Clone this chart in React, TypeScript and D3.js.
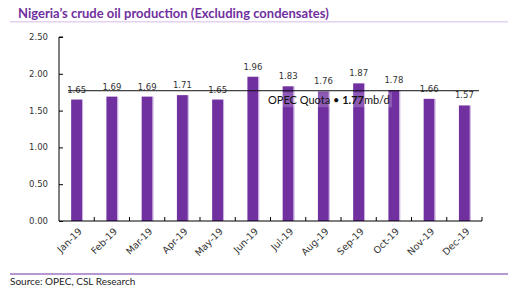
import { useEffect, useRef } from "react";
import * as d3 from "d3";

const months = ["Jan-19", "Feb-19", "Mar-19", "Apr-19", "May-19", "Jun-19", "Jul-19", "Aug-19", "Sep-19", "Oct-19", "Nov-19", "Dec-19"];
const production = [1.65, 1.69, 1.69, 1.71, 1.65, 1.96, 1.83, 1.76, 1.87, 1.78, 1.66, 1.57];
const yTicks = [0, 0.5, 1, 1.5, 2, 2.5];
const opecQuota = 1.77;

export default function App() {
  const ref = useRef<SVGSVGElement>(null);

  useEffect(() => {
    const svg = d3.select(ref.current);
    svg.selectAll("*").remove();

    const width = 522;
    const height = 295;
    const purple = "#7030a0";
    const font = "Lato, 'Open Sans', sans-serif";
    const numFont = "'DejaVu Sans', Verdana, sans-serif";

    svg.attr("width", width).attr("height", height);

    // title and rule under it
    svg.append("text")
      .attr("x", 18)
      .attr("y", 18)
      .attr("font-family", font)
      .attr("font-weight", "bold")
      .attr("font-size", 13)
      .attr("fill", purple)
      .text("Nigeria\u2019s crude oil production (Excluding condensates)");

    svg.append("line")
      .attr("x1", 10).attr("x2", 508)
      .attr("y1", 21.7).attr("y2", 21.7)
      .attr("stroke", "#e3d2f0")
      .attr("stroke-width", 1.4);

    const x = d3.scaleBand<string>()
      .domain(months)
      .range([59, 482])
      .paddingInner(0.69)
      .paddingOuter(0.345);

    const y = d3.scaleLinear()
      .domain([0, 2.5])
      .range([221, 37]);

    // bars with a light right edge
    const bars = svg.append("g");
    bars.selectAll("rect.bar")
      .data(production)
      .join("rect")
      .attr("class", "bar")
      .attr("x", (_, i) => x(months[i])!)
      .attr("y", d => y(d))
      .attr("width", x.bandwidth())
      .attr("height", d => y(0) - y(d))
      .attr("fill", purple);
    bars.selectAll("rect.edge")
      .data(production)
      .join("rect")
      .attr("class", "edge")
      .attr("x", (_, i) => x(months[i])! + x.bandwidth())
      .attr("y", d => y(d))
      .attr("width", 1)
      .attr("height", d => y(0) - y(d))
      .attr("fill", "#c9aee0");

    // value labels
    svg.append("g")
      .selectAll("text")
      .data(production)
      .join("text")
      .attr("x", (_, i) => x(months[i])! + x.bandwidth() / 2)
      .attr("y", d => y(d) - 7)
      .attr("text-anchor", "middle")
      .attr("font-family", numFont)
      .attr("font-size", 8.5)
      .attr("fill", "#333")
      .text(d => d.toFixed(2));

    // quota line and its label
    const qy = y(opecQuota);
    svg.append("line")
      .attr("x1", 68).attr("x2", 479)
      .attr("y1", qy).attr("y2", qy)
      .attr("stroke", "#111")
      .attr("stroke-width", 1);

    svg.append("rect")
      .attr("x", 264).attr("y", qy + 1.5)
      .attr("width", 128).attr("height", 15)
      .attr("fill", "#fff")
      .attr("opacity", 0.2);

    const quotaLabel = svg.append("text")
      .attr("x", 268)
      .attr("y", qy + 13)
      .attr("font-family", font)
      .attr("font-size", 11)
      .attr("fill", "#111");
    quotaLabel.append("tspan").text("OPEC Quota \u2022 ");
    quotaLabel.append("tspan").attr("font-weight", "bold").text(opecQuota.toFixed(2));
    quotaLabel.append("tspan").text("mb/d");

    // y axis, ticks pointing inward
    const yAxis = svg.append("g")
      .attr("transform", "translate(59,0)")
      .call(d3.axisRight(y).tickValues(yTicks).tickSize(4).tickFormat(() => ""));
    yAxis.select(".domain").attr("d", `M4,${y(2.5)}H0V${y(0)}`).attr("stroke", "#000");
    yAxis.selectAll(".tick line").attr("stroke", "#000");

    svg.append("g")
      .selectAll("text")
      .data(yTicks)
      .join("text")
      .attr("x", 48)
      .attr("y", d => y(d) + 3)
      .attr("text-anchor", "end")
      .attr("font-family", numFont)
      .attr("font-size", 8.5)
      .attr("fill", "#333")
      .text(d => d.toFixed(2));

    // x axis with inward ticks at band boundaries
    const xg = svg.append("g");
    xg.append("line")
      .attr("x1", 59).attr("x2", 482)
      .attr("y1", y(0)).attr("y2", y(0))
      .attr("stroke", "#000");
    xg.selectAll("line.tick")
      .data(months)
      .join("line")
      .attr("class", "tick")
      .attr("x1", d => x(d)! + x.bandwidth() / 2 + x.step() / 2)
      .attr("x2", d => x(d)! + x.bandwidth() / 2 + x.step() / 2)
      .attr("y1", y(0))
      .attr("y2", y(0) - 4)
      .attr("stroke", "#000");

    xg.selectAll("text")
      .data(months)
      .join("text")
      .attr("transform", d => `translate(${x(d)! + x.bandwidth() / 2 + 6},${y(0) + 11}) rotate(-45)`)
      .attr("text-anchor", "end")
      .attr("font-family", numFont)
      .attr("font-size", 9.5)
      .attr("fill", "#333")
      .text(d => d);

    // source rule and note
    svg.append("line")
      .attr("x1", 10).attr("x2", 508)
      .attr("y1", 274).attr("y2", 274)
      .attr("stroke", purple)
      .attr("stroke-width", 1);

    svg.append("text")
      .attr("x", 10)
      .attr("y", 284.5)
      .attr("font-family", font)
      .attr("font-size", 10)
      .attr("fill", "#222")
      .text("Source: OPEC, CSL Research");
  }, []);

  return <svg ref={ref} style={{ position: "absolute", left: 0, top: 0 }}></svg>;
}
